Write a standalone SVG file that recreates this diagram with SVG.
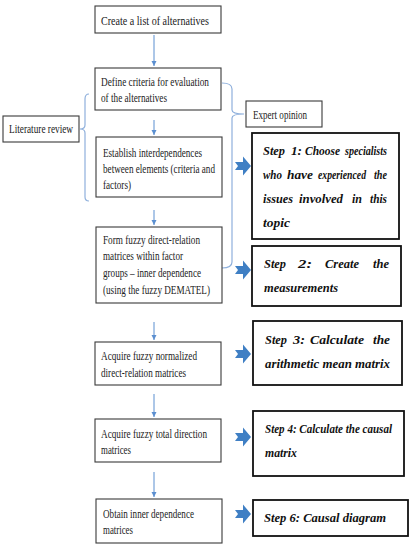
<svg xmlns="http://www.w3.org/2000/svg" width="415" height="550" viewBox="0 0 415 550">
<style>
.box{fill:#fff;stroke:#3a3a3a;stroke-width:1.1}
.step{fill:#fff;stroke:#111;stroke-width:1.8}
.t{font-family:"Liberation Serif",serif;font-size:13px;fill:#222}
.s{font-family:"Liberation Serif",serif;font-size:11.5px;font-style:italic;font-weight:bold;fill:#111}
.ln{fill:none;stroke:#5b8fd0;stroke-width:1}
.br{fill:none;stroke:#8fb0dc;stroke-width:1.2}
.chev{fill:#3f7fc4}
</style>
<defs>
<marker id="ah" markerWidth="6" markerHeight="6" refX="5" refY="3" orient="auto" markerUnits="userSpaceOnUse">
<path d="M0,0.5 L5,3 L0,5.5 Z" fill="#5b8fd0"/>
</marker>
<polygon id="chv" class="chev" points="-8,-4 0,-4 0,-9.5 8,0 0,9.5 0,4 -8,4 -5,0"/>
</defs>
<g id="connectors">
<line class="ln" x1="154" y1="35" x2="154" y2="66" marker-end="url(#ah)"/>
<line class="ln" x1="154" y1="120" x2="154" y2="135" marker-end="url(#ah)"/>
<line class="ln" x1="154" y1="210" x2="154" y2="225" marker-end="url(#ah)"/>
<line class="ln" x1="154" y1="322" x2="154" y2="340" marker-end="url(#ah)"/>
<line class="ln" x1="154" y1="394" x2="154" y2="417" marker-end="url(#ah)"/>
<line class="ln" x1="154" y1="472" x2="154" y2="497" marker-end="url(#ah)"/>
<path class="br" d="M89,94 Q85,94 85,99 L85,125 Q85,129 80,129 Q85,129 85,133 L85,197 Q85,201 89,201"/>
<path class="br" d="M222,83 Q232,83 232,89 L232,110 Q232,114 244,114 Q232,114 232,118 L232,262 Q232,268 222,268"/>
<use href="#chv" x="243" y="166"/>
<use href="#chv" x="243" y="270"/>
<use href="#chv" x="243" y="354"/>
<use href="#chv" x="243" y="437"/>
<use href="#chv" x="243" y="514"/>
</g>
<g id="n1"><rect class="box" x="95" y="6" width="126" height="27"/>
<text class="t" x="101" y="25" textLength="108" lengthAdjust="spacingAndGlyphs">Create a list of alternatives</text></g>
<g id="n2"><rect class="box" x="95" y="68" width="126" height="42"/>
<text class="t" x="101" y="86" textLength="108" lengthAdjust="spacingAndGlyphs">Define criteria for evaluation</text>
<text class="t" x="101" y="102" textLength="66" lengthAdjust="spacingAndGlyphs">of the alternatives</text></g>
<g id="expert"><rect class="box" x="246" y="101" width="76" height="26"/>
<text class="t" x="253" y="119" textLength="54" lengthAdjust="spacingAndGlyphs">Expert opinion</text></g>
<g id="lit"><rect class="box" x="3" y="116" width="76" height="26"/>
<text class="t" x="9" y="133" textLength="64" lengthAdjust="spacingAndGlyphs">Literature review</text></g>
<g id="n3"><rect class="box" x="96" y="137" width="126" height="60"/>
<text class="t" x="103" y="157" textLength="99" lengthAdjust="spacingAndGlyphs">Establish interdependences</text>
<text class="t" x="103" y="173" textLength="112" lengthAdjust="spacingAndGlyphs">between elements (criteria and</text>
<text class="t" x="103" y="189" textLength="28" lengthAdjust="spacingAndGlyphs">factors)</text></g>
<g id="n4"><rect class="box" x="96" y="227" width="126" height="76"/>
<text class="t" x="103" y="244" textLength="97" lengthAdjust="spacingAndGlyphs">Form fuzzy direct-relation</text>
<text class="t" x="103" y="260" textLength="80" lengthAdjust="spacingAndGlyphs">matrices within factor</text>
<text class="t" x="103" y="277" textLength="98" lengthAdjust="spacingAndGlyphs">groups – inner dependence</text>
<text class="t" x="103" y="294" textLength="107" lengthAdjust="spacingAndGlyphs">(using the fuzzy DEMATEL)</text></g>
<g id="n5"><rect class="box" x="95" y="342" width="126" height="43"/>
<text class="t" x="101" y="360" textLength="96" lengthAdjust="spacingAndGlyphs">Acquire fuzzy normalized</text>
<text class="t" x="101" y="377" textLength="85" lengthAdjust="spacingAndGlyphs">direct-relation matrices</text></g>
<g id="n6"><rect class="box" x="95" y="419" width="126" height="43"/>
<text class="t" x="101" y="438" textLength="106" lengthAdjust="spacingAndGlyphs">Acquire fuzzy total direction</text>
<text class="t" x="101" y="454" textLength="30" lengthAdjust="spacingAndGlyphs">matrices</text></g>
<g id="n7"><rect class="box" x="96" y="499" width="126" height="44"/>
<text class="t" x="103" y="518" textLength="91" lengthAdjust="spacingAndGlyphs">Obtain inner dependence</text>
<text class="t" x="103" y="534" textLength="30" lengthAdjust="spacingAndGlyphs">matrices</text></g>
<g id="s1"><rect class="step" x="252" y="133" width="147" height="106"/>
<text class="s" x="263" y="155" textLength="22" lengthAdjust="spacingAndGlyphs">Step</text>
<text class="s" x="291" y="155" textLength="11" lengthAdjust="spacingAndGlyphs">1:</text>
<text class="s" x="305" y="155" textLength="35" lengthAdjust="spacingAndGlyphs">Choose</text>
<text class="s" x="345" y="155" textLength="42" lengthAdjust="spacingAndGlyphs">specialists</text>
<text class="s" x="263" y="179" textLength="19" lengthAdjust="spacingAndGlyphs">who</text>
<text class="s" x="287" y="179" textLength="26" lengthAdjust="spacingAndGlyphs">have</text>
<text class="s" x="318" y="179" textLength="48" lengthAdjust="spacingAndGlyphs">experienced</text>
<text class="s" x="374" y="179" textLength="13" lengthAdjust="spacingAndGlyphs">the</text>
<text class="s" x="263" y="203" textLength="30" lengthAdjust="spacingAndGlyphs">issues</text>
<text class="s" x="299" y="203" textLength="44" lengthAdjust="spacingAndGlyphs">involved</text>
<text class="s" x="352" y="203" textLength="10" lengthAdjust="spacingAndGlyphs">in</text>
<text class="s" x="370" y="203" textLength="17" lengthAdjust="spacingAndGlyphs">this</text>
<text class="s" x="263" y="227" textLength="27" lengthAdjust="spacingAndGlyphs">topic</text></g>
<g id="s2"><rect class="step" x="252" y="246" width="149" height="60"/>
<text class="s" x="264" y="268" textLength="22" lengthAdjust="spacingAndGlyphs">Step</text>
<text class="s" x="298" y="268" textLength="14" lengthAdjust="spacingAndGlyphs">2:</text>
<text class="s" x="325" y="268" textLength="34" lengthAdjust="spacingAndGlyphs">Create</text>
<text class="s" x="373" y="268" textLength="16" lengthAdjust="spacingAndGlyphs">the</text>
<text class="s" x="264" y="292" textLength="74" lengthAdjust="spacingAndGlyphs">measurements</text></g>
<g id="s3"><rect class="step" x="253" y="321" width="149" height="64"/>
<text class="s" x="265" y="344" textLength="22" lengthAdjust="spacingAndGlyphs">Step</text>
<text class="s" x="293" y="344" textLength="12" lengthAdjust="spacingAndGlyphs">3:</text>
<text class="s" x="310" y="344" textLength="54" lengthAdjust="spacingAndGlyphs">Calculate</text>
<text class="s" x="373" y="344" textLength="17" lengthAdjust="spacingAndGlyphs">the</text>
<text class="s" x="265" y="368" textLength="125" lengthAdjust="spacingAndGlyphs">arithmetic mean matrix</text></g>
<g id="s4"><rect class="step" x="253" y="411" width="151" height="65"/>
<text class="s" x="265" y="433" textLength="127" lengthAdjust="spacingAndGlyphs">Step 4: Calculate the causal</text>
<text class="s" x="265" y="457" textLength="32" lengthAdjust="spacingAndGlyphs">matrix</text></g>
<g id="s6"><rect class="step" x="253" y="500" width="155" height="36"/>
<text class="s" x="264" y="522" textLength="122" lengthAdjust="spacingAndGlyphs">Step 6: Causal diagram</text></g>
</svg>
